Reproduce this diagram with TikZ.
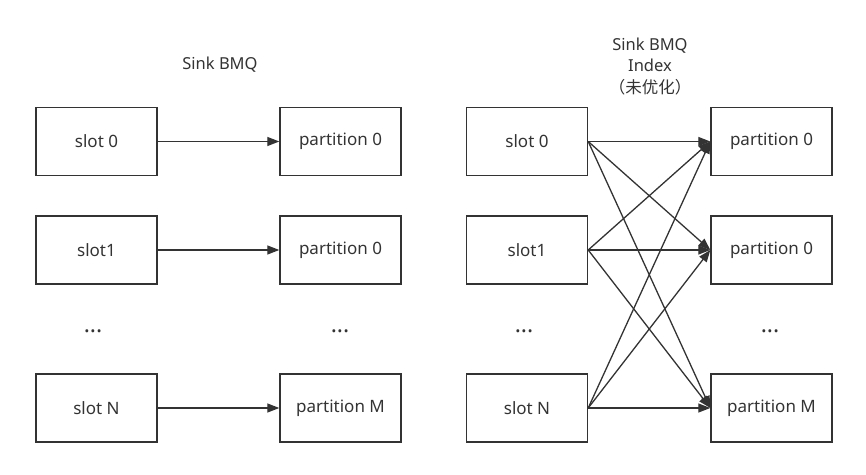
\documentclass[tikz,border=0pt]{standalone}
\usepackage{fontspec}
\setmainfont{Noto Sans}
\newfontfamily\cjk{Noto Sans CJK SC}
\usetikzlibrary{positioning,arrows.meta}
\definecolor{ink}{HTML}{333333}
\begin{document}
\begin{tikzpicture}[x=1pt, y=1pt,
        box/.style={draw=ink, line width=1.4pt, minimum width=121pt, minimum height=68pt, text=ink, font=\fontsize{17}{20}\selectfont},% slot / partition box
        dots/.style={text=ink, font=\bfseries\fontsize{23}{24}\selectfont},% elided rows
        title/.style={align=center, text=ink, font=\fontsize{16.5}{21.5}\selectfont},% group heading
        link/.style={-{Triangle[length=12pt,width=9pt]}, line width=1.3pt, draw=ink},% slot to partition
    ]
    \useasboundingbox (0,0) rectangle (866,474);

    % left: one slot to one partition
    \node[title] (sinkTitle) at (220,409) {Sink BMQ};
    \node[box] (slotA) at (96.5,332.5) {slot 0};
    \node[box] (slotB) at (96.5,224) {slot1};
    \node[dots] (slotDots) at (93,143) {...};
    \node[box] (slotN) at (96.5,66) {slot N};
    \node[box] (partA) at (340.5,332.5) {partition 0};
    \node[box] (partB) at (340.5,224) {partition 0};
    \node[dots] (partDots) at (340,143) {...};
    \node[box] (partM) at (340.5,66) {partition M};
    \foreach \s/\p in {slotA/partA, slotB/partB, slotN/partM}
        \draw[link] (\s) -- (\p);

    % right: every slot to every partition
    \node[title] (indexTitle) at (650,407.5) {Sink BMQ\\Index\\{\cjk （未优化）}};
    \node[box] (islotA) at (527,332.5) {slot 0};
    \node[box] (islotB) at (527,224) {slot1};
    \node[dots] (islotDots) at (524,143) {...};
    \node[box] (islotN) at (527,66) {slot N};
    \node[box] (ipartA) at (771.5,332.5) {partition 0};
    \node[box] (ipartB) at (771.5,224) {partition 0};
    \node[dots] (ipartDots) at (770,143) {...};
    \node[box] (ipartM) at (771.5,66) {partition M};
    \foreach \s in {islotA, islotB, islotN}
        \foreach \p in {ipartA, ipartB, ipartM}
            \draw[link] (\s.east) -- (\p.west);
\end{tikzpicture}
\end{document}
